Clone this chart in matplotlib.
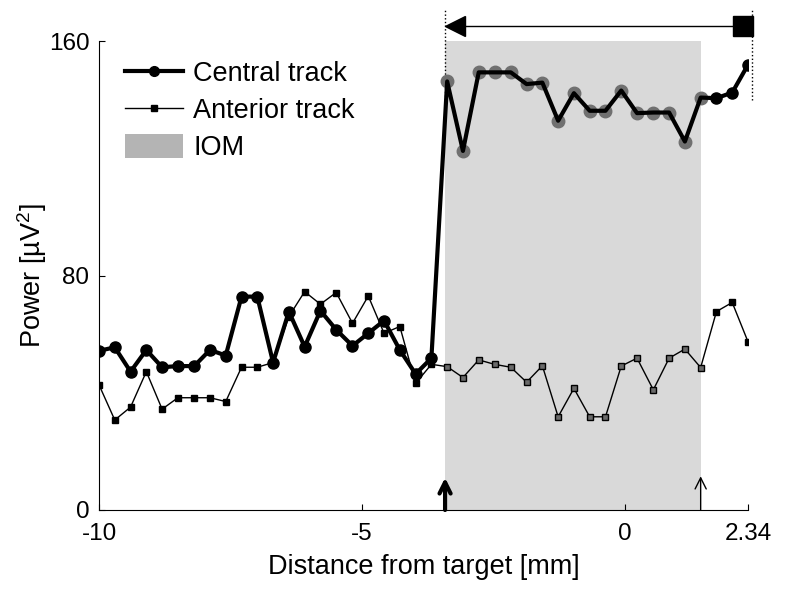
import numpy as np
import matplotlib.pyplot as plt
from matplotlib.lines import Line2D
from matplotlib.patches import Patch

plt.rcParams['font.family'] = ['Liberation Sans', 'DejaVu Sans']
plt.rcParams['mathtext.fontset'] = 'custom'
plt.rcParams['mathtext.rm'] = 'Liberation Sans'

# distance from target (mm), one sample every ~0.3 mm
dist = np.array([-10.00, -9.70, -9.40, -9.10, -8.80, -8.50, -8.19, -7.89, -7.59, -7.29,
                 -6.99, -6.69, -6.39, -6.09, -5.79, -5.49, -5.18, -4.88, -4.58, -4.28,
                 -3.98, -3.68, -3.38, -3.08, -2.78, -2.48, -2.17, -1.87, -1.57, -1.27,
                 -0.97, -0.67, -0.37, -0.07, 0.23, 0.54, 0.84, 1.14, 1.44, 1.74,
                 2.04, 2.34])

central = np.array([54.3, 55.5, 47.2, 54.6, 48.7, 49.1, 49.1, 54.6, 52.7, 72.8,
                    72.8, 50.3, 67.7, 55.7, 68.0, 61.5, 56.0, 60.3, 64.6, 54.6,
                    46.4, 51.8, 146.2, 122.5, 149.3, 149.3, 149.3, 145.3, 145.8, 132.8,
                    142.2, 136.2, 136.2, 143.1, 135.4, 135.6, 135.6, 125.7, 140.7, 140.5,
                    142.4, 151.9])

anterior = np.array([42.7, 30.7, 35.1, 47.2, 34.4, 38.3, 38.3, 38.3, 37.0, 48.7,
                     48.7, 50.3, 66.0, 74.5, 70.2, 74.2, 63.7, 73.0, 60.3, 62.6,
                     43.2, 49.7, 48.9, 45.2, 51.2, 49.7, 48.7, 43.6, 49.2, 31.8,
                     41.5, 31.8, 31.8, 49.1, 51.8, 41.0, 51.8, 54.9, 48.6, 67.7,
                     70.8, 57.4])

iom_start = -3.42
iom_end = 1.44
x_end = 2.34

xticks = [-10, -5, 0, 2.34]
xticklabels = ['-10', '-5', '0', '2.34']
yticks = [0, 80, 160]

inside = (dist >= iom_start - 0.05) & (dist <= iom_end + 0.05)
outside = ~inside

fig = plt.figure(figsize=(7.86, 5.92), dpi=100)
ax = fig.add_axes([99/786, 82/592, (748-99)/786, (510-41)/592])

# IOM shaded region
ax.axvspan(iom_start, iom_end, color='#d9d9d9', lw=0, zorder=0)

# anterior track
ax.plot(dist, anterior, '-', color='k', lw=1, zorder=2)
ax.plot(dist[outside], anterior[outside], 's', color='k', ms=4.5, zorder=2.5)
ax.plot(dist[inside], anterior[inside], 's', mfc='#6a6a6a', mec='k', mew=1, ms=4.5, zorder=2.5)

# central track
ax.plot(dist[inside], central[inside], 'o', color='#707070', ms=9, zorder=3)
ax.plot(dist, central, '-', color='k', lw=3, zorder=4)
ax.plot(dist[outside], central[outside], 'o', color='k', ms=8, zorder=5)

# arrows at the bottom marking the IOM limits
ax.annotate('', xy=(iom_start, 11), xytext=(iom_start, 0),
            arrowprops=dict(arrowstyle='->', lw=3, color='k', shrinkA=0, shrinkB=0,
                            mutation_scale=20), annotation_clip=False, zorder=6)
ax.annotate('', xy=(iom_end, 11.5), xytext=(iom_end, 0),
            arrowprops=dict(arrowstyle='->', lw=1, color='k', shrinkA=0, shrinkB=0,
                            mutation_scale=20), annotation_clip=False, zorder=6)

# arrow above the plot
y_top = 165.2
ax.plot([iom_start + 0.1, 2.24], [y_top, y_top], '-', color='k', lw=1, clip_on=False)
ax.plot(iom_start + 0.19, y_top, marker='<', ms=14, color='k', clip_on=False)
ax.plot(2.24, y_top, marker='s', ms=14, color='k', clip_on=False)
ax.plot([iom_start, iom_start], [140, 171], ':', color='k', lw=1, clip_on=False)
ax.plot([2.41, 2.41], [140, 171], ':', color='k', lw=1, clip_on=False)

ax.set_xlim(-10, x_end)
ax.set_ylim(0, 160)
ax.set_xticks(xticks)
ax.set_xticklabels(xticklabels)
ax.set_yticks(yticks)
ax.spines['top'].set_visible(False)
ax.spines['right'].set_visible(False)
ax.spines['left'].set_linewidth(0.8)
ax.spines['bottom'].set_linewidth(0.8)
ax.tick_params(direction='in', length=4, width=0.8, labelsize=17.5)
ax.tick_params(axis='x', pad=9)
ax.tick_params(axis='y', pad=7)

ax.set_xlabel('Distance from target [mm]', fontsize=19.5, labelpad=7)
ax.set_ylabel('Power [µV$^2$]', fontsize=19.5, labelpad=0)

handles = [Line2D([0], [0], color='k', lw=3, marker='o', ms=7),
           Line2D([0], [0], color='k', lw=1, marker='s', ms=4),
           Patch(facecolor='#b4b4b4', edgecolor='none')]
ax.legend(handles, ['Central track', 'Anterior track', 'IOM'], loc='upper left',
          bbox_to_anchor=(125/786, 1 - 60/592), bbox_transform=fig.transFigure,
          frameon=False, fontsize=19.5, borderpad=0, borderaxespad=0,
          handlelength=2.15, handleheight=1.0, handletextpad=0.37, labelspacing=0.35)

fig.savefig('out.png', dpi=100)
